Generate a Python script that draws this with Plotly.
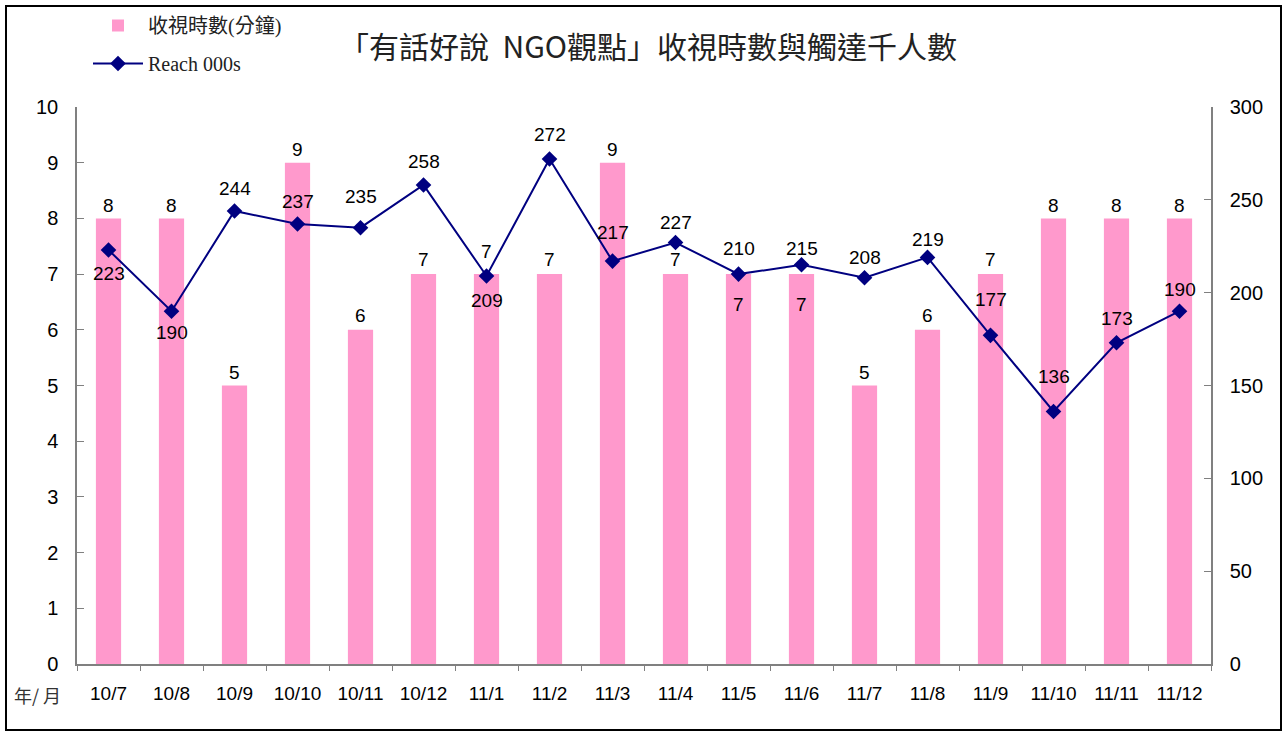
import plotly.graph_objects as go

months = ["10/7", "10/8", "10/9", "10/10", "10/11", "10/12", "11/1", "11/2", "11/3",
          "11/4", "11/5", "11/6", "11/7", "11/8", "11/9", "11/10", "11/11", "11/12"]
minutes = [8, 8, 5, 9, 6, 7, 7, 7, 9, 7, 7, 7, 5, 6, 7, 8, 8, 8]
reach = [223, 190, 244, 237, 235, 258, 209, 272, 217, 227, 210, 215, 208, 219, 177, 136, 173, 190]

# label offsets in pixels (positive = above the point), style only
reach_label_shift = [-24, -21, 22, 22, 31, 23, -25, 24, 29, 20, 26, 16, 20, 18, 36, 35, 24, 22]
bar_label_shift = [13, 13, 13, 13, 14, 15, 23, 15, 13, 15, -30, -30, 13, 14, 15, 13, 13, 13]

W, H = 1287, 731
L, R, T, B = 77, 76, 107, 67
pw, ph = W - L - R, H - T - B

def px(x):
    return (x - L) / pw

def py(y):
    return (H - B - y) / ph

LABEL_FONT = dict(family="Liberation Sans, Arial", size=19, color="black")

fig = go.Figure()
fig.add_trace(go.Bar(
    x=months, y=minutes, name="收視時數(分鐘)", legendgroup="a",
    marker=dict(color="#FF99CC", line=dict(width=0)),
    yaxis="y", hoverinfo="x+y",
))
fig.add_trace(go.Scatter(
    x=months, y=reach, name="Reach 000s", mode="lines+markers", legendgroup="b",
    line=dict(color="#000080", width=2),
    marker=dict(symbol="diamond", size=12, color="#000080"),
    cliponaxis=False, yaxis="y2",
))

annotations = []
for m, v, s in zip(months, minutes, bar_label_shift):
    annotations.append(dict(x=m, y=v, xref="x", yref="y", text=str(v), showarrow=False,
                            xanchor="center", yanchor="middle", yshift=s, font=LABEL_FONT))
for m, v, s in zip(months, reach, reach_label_shift):
    annotations.append(dict(x=m, y=v, xref="x", yref="y2", text=str(v), showarrow=False,
                            xanchor="center", yanchor="middle", yshift=s, font=LABEL_FONT))
annotations += [
    dict(text="「有話好說  NGO觀點」收視時數與觸達千人數", x=px(648), y=py(45),
         xref="paper", yref="paper", showarrow=False,
         xanchor="center", yanchor="middle",
         font=dict(family="Noto Sans CJK TC", size=30, color="#222")),
    dict(text="年/ 月", x=px(37), y=py(695), xref="paper", yref="paper",
         showarrow=False, xanchor="center", yanchor="middle",
         font=dict(family="Noto Sans CJK TC", size=18, color="#333")),
]

fig.update_layout(
    width=W, height=H,
    margin=dict(l=L, r=R, t=T, b=B, autoexpand=False),
    paper_bgcolor="white", plot_bgcolor="white",
    bargap=0.6,
    showlegend=True,
    legend=dict(x=px(88), y=py(6), xanchor="left", yanchor="top",
                font=dict(family="Liberation Serif, Noto Sans CJK TC", size=20, color="#222"),
                bgcolor="rgba(0,0,0,0)", tracegroupgap=9, itemwidth=50),
    xaxis=dict(type="category", range=[-0.5, len(months) - 0.5],
               showline=True, linecolor="#808080", linewidth=1.5,
               ticks="outside", tickson="boundaries", ticklen=5, tickcolor="#808080",
               tickfont=dict(family="Liberation Sans, Arial", size=19, color="black"),
               showgrid=False, zeroline=False, ticklabelstandoff=11),
    yaxis=dict(range=[0, 10], dtick=1, showline=True, linecolor="#808080", linewidth=1.5,
               ticks="inside", ticklen=7, tickcolor="#808080",
               tickfont=dict(family="Liberation Sans, Arial", size=20, color="black"),
               showgrid=False, zeroline=False, ticklabelstandoff=13),
    yaxis2=dict(range=[0, 300], dtick=50, overlaying="y", side="right", showline=True,
                linecolor="#808080", linewidth=1.5, ticks="inside", ticklen=7,
                tickcolor="#808080",
                tickfont=dict(family="Liberation Sans, Arial", size=20, color="black"),
                showgrid=False, zeroline=False, ticklabelstandoff=13),
    annotations=annotations,
    shapes=[dict(type="rect", xref="paper", yref="paper",
                 x0=px(6), x1=px(1281), y0=py(730), y1=py(6),
                 line=dict(color="black", width=2), fillcolor="rgba(0,0,0,0)")],
)

fig.write_html("out.html", config={"displayModeBar": False},
               post_script="document.body.style.margin='0';document.body.style.overflow='hidden';")
